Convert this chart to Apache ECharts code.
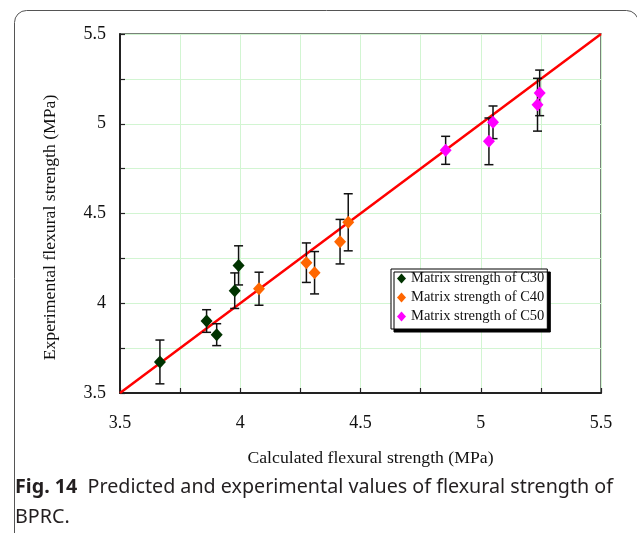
<!DOCTYPE html>
<html>
<head>
<meta charset="utf-8">
<script src="https://cdn.jsdelivr.net/npm/echarts@6/dist/echarts.min.js"></script>
<style>
html,body{margin:0;padding:0;background:#fff;}
#chart{width:637px;height:533px;}
</style>
</head>
<body>
<div id="chart"></div>
<script>
// [calculated, experimental, half error]
const c30 = [[3.666,3.673,0.122],[3.860,3.901,0.063],[3.902,3.825,0.061],[3.977,4.070,0.099],[3.993,4.211,0.109]];
const c40 = [[4.078,4.081,0.092],[4.275,4.226,0.110],[4.309,4.170,0.118],[4.415,4.343,0.124],[4.449,4.451,0.159]];
const c50 = [[4.854,4.852,0.078],[5.034,4.902,0.130],[5.051,5.008,0.091],[5.236,5.106,0.147],[5.245,5.172,0.127]];
const fitLine = [[3.5,3.5],[5.5,5.5]];
const seriesNames = ['Matrix strength of C30','Matrix strength of C40','Matrix strength of C50'];
const seriesColors = ['#003300','#ff6600','#ff00ff'];
const axisMin = 3.5, axisMax = 5.5, axisStep = 0.25;
const xTitle = 'Calculated flexural strength (MPa)';
const yTitle = 'Experimental flexural strength (MPa)';

const chart = echarts.init(document.getElementById('chart'), null, {renderer:'canvas'});
const serif = '"Liberation Serif","Times New Roman",serif';
const labelFmt = v => (Math.abs(v*2 - Math.round(v*2)) < 1e-6) ? String(+v.toFixed(2)) : '';

function errSeries(data){
  return {
    type:'custom', silent:true, z:3,
    data: data.map(d => [d[0], d[1]-d[2], d[1]+d[2]]),
    renderItem(params, api){
      const x = api.value(0);
      const lo = api.coord([x, api.value(1)]);
      const hi = api.coord([x, api.value(2)]);
      const w = 4.5;
      const st = {stroke:'#111', lineWidth:1.5};
      return {type:'group', children:[
        {type:'line', shape:{x1:lo[0],y1:lo[1],x2:hi[0],y2:hi[1]}, style:st},
        {type:'line', shape:{x1:lo[0]-w,y1:lo[1],x2:lo[0]+w,y2:lo[1]}, style:st},
        {type:'line', shape:{x1:hi[0]-w,y1:hi[1],x2:hi[0]+w,y2:hi[1]}, style:st}
      ]};
    }
  };
}

const groups = [c30,c40,c50];
const series = [{
  type:'line', data: fitLine, symbol:'none', silent:true, z:2,
  lineStyle:{color:'#ff0000', width:2.5}
}];
groups.forEach(g => series.push(errSeries(g)));
groups.forEach((g,i) => series.push({
  type:'scatter', name: seriesNames[i], z:5,
  data: g.map(d => [d[0], d[1]]),
  symbol:'diamond', symbolSize:[12,13],
  itemStyle:{color: seriesColors[i], opacity:1}
}));

function axis(isX){
  return {
    type:'value', min:axisMin, max:axisMax, interval:axisStep,
    name: isX ? xTitle : yTitle,
    nameLocation:'middle',
    nameGap: isX ? 56 : 61,
    nameTextStyle:{fontFamily:serif, fontSize:17.7, color:'#111', padding: isX ? [0,0,0,20] : [0,28,0,0]},
    axisLine:{show:true, onZero:false, lineStyle:{color:'#222', width:2}},
    axisTick:{show:true, inside:true, length:5, lineStyle:{color:'#222', width:1.2}},
    axisLabel:{formatter:labelFmt, fontFamily:serif, fontSize:18, color:'#111', margin: isX ? 21 : 14},
    splitLine:{show:true, lineStyle:{color:'#d2f5d2', width:1}}
  };
}

chart.setOption({
  animation:false,
  backgroundColor:'#fff',
  grid:{left:120, top:34, width:481, height:359, show:true, borderColor:'#4d5a4d', borderWidth:1.5, backgroundColor:'transparent'},
  xAxis: axis(true),
  yAxis: axis(false),
  legend:{
    orient:'vertical', left:391, top:269,
    data: seriesNames.map(n => ({name:n, icon:'diamond'})),
    itemWidth:9, itemHeight:10, itemGap:4,
    padding:[2,3,5,6],
    backgroundColor:'#fff', borderColor:'#000', borderWidth:1, borderRadius:0,
    shadowColor:'#000', shadowOffsetX:3, shadowOffsetY:3, shadowBlur:0,
    textStyle:{fontFamily:serif, fontSize:14.5, color:'#111', lineHeight:14.3},
    selectedMode:false
  },
  graphic:[
    {type:'rect', silent:true, z:-1, shape:{x:14.5, y:10.5, width:624, height:600, r:12}, style:{fill:'none', stroke:'#555', lineWidth:1}},
    {type:'text', silent:true, left:15, top:477, style:{text:'{b|Fig. 14}  Predicted and experimental values of flexural strength of', fill:'#231f20', font:'19.7px "Noto Sans"', rich:{b:{fontWeight:'bold', fontFamily:'Noto Sans', fontSize:19.7, fill:'#231f20'}}}},
    {type:'text', silent:true, left:15, top:507, style:{text:'BPRC.', fill:'#231f20', font:'19.7px "Noto Sans"'}}
  ],
  series: series
});
</script>
</body>
</html>
